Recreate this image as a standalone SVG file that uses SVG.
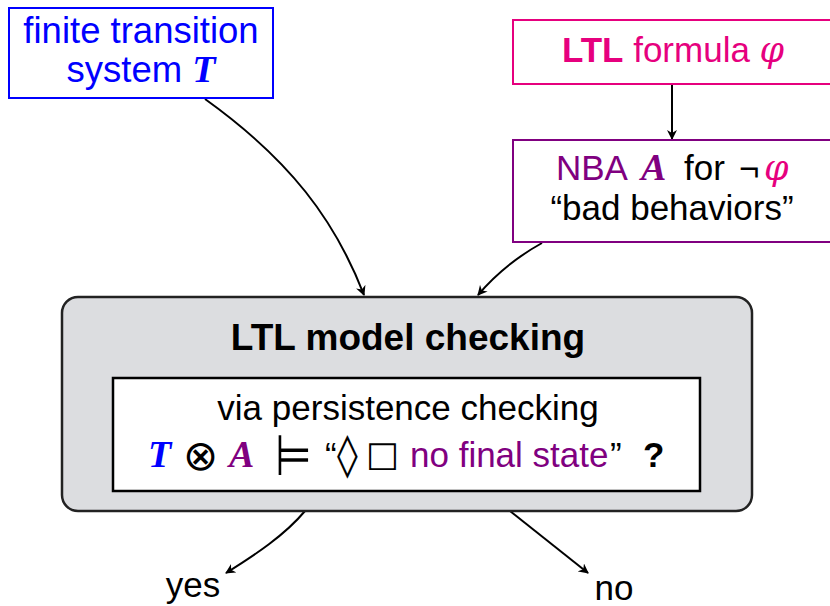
<svg xmlns="http://www.w3.org/2000/svg" width="830" height="606" viewBox="0 0 830 606">
<style>
text{font-family:"Liberation Sans","DejaVu Sans",sans-serif;font-size:35px;text-anchor:middle}
.s{text-anchor:start}
.box{fill:#fff;stroke-width:2}
.cal{font-family:"Liberation Serif","DejaVu Serif",serif;font-style:italic;font-weight:bold;font-size:38px}
.phi{font-family:"DejaVu Serif",serif;font-style:italic}
.sym{font-family:"DejaVu Sans",sans-serif}
.edge{fill:none;stroke:#000;stroke-width:2;marker-end:url(#ah)}
.b{fill:#0000ff}.m{fill:#e6007e}.p{fill:#800080}.k{fill:#000}
</style>
<defs>
<marker id="ah" viewBox="0 0 10 10" refX="9" refY="5" markerWidth="5" markerHeight="5" orient="auto" markerUnits="strokeWidth">
<path d="M0,0 L10,5 L0,10 L3,5 z" fill="#000"/>
</marker>
</defs>
<g id="edges">
<path class="edge" d="M205,99 C290,160 335,220 364,295"/>
<path class="edge" d="M672,84 L672,139"/>
<path class="edge" d="M542,243 C515,258 495,275 478,295"/>
<path class="edge" d="M305,511 C285,535 255,555 226,573"/>
<path class="edge" d="M510,511 C540,535 565,555 588,573"/>
</g>
<g id="ts">
<rect class="box" x="9" y="8" width="264" height="90" stroke="#0000ff"/>
<text x="141" y="43" class="b" style="font-size:36.5px">finite transition</text>
<text x="141" y="82" class="b" style="font-size:36.5px">system <tspan class="cal">T</tspan></text>
</g>
<g id="ltl">
<rect class="box" x="513" y="20" width="330" height="64" stroke="#e6007e"/>
<text x="673" y="62" class="m"><tspan font-weight="bold">LTL</tspan> formula <tspan class="phi">φ</tspan></text>
</g>
<g id="nba">
<rect class="box" x="513" y="140" width="330" height="102" stroke="#800080"/>
<text x="556" y="180" class="s"><tspan class="p">NBA</tspan><tspan x="641" class="cal p">A</tspan><tspan x="684">for</tspan><tspan x="739">¬</tspan><tspan x="764" class="phi m">φ</tspan></text>
<text x="672" y="220">“bad behaviors”</text>
</g>
<g id="mc">
<rect x="62" y="297" width="690" height="214" rx="16" fill="#dcdde0" stroke="#222" stroke-width="2.5"/>
<text x="408" y="350" font-weight="bold" style="font-size:37px">LTL model checking</text>
<rect x="113" y="378" width="587" height="113" fill="#fff" stroke="#000" stroke-width="2.5"/>
<text x="408" y="420">via persistence checking</text>
<text x="148" y="467" class="s cal b">T</text>
<text x="183" y="470" class="s sym" style="font-size:42px">⊗</text>
<text x="229" y="467" class="s cal p">A</text>
<text transform="translate(275,475) scale(1,1.35)" class="s sym" style="font-size:42px">⊨</text>
<text x="325" y="467" class="s">“</text>
<text x="337" y="469" class="s sym" style="font-size:42px">◊</text>
<text x="366" y="466" class="s sym">□</text>
<text x="410" y="467" class="s p">no final state</text>
<text x="610" y="467" class="s">”</text>
<text x="643" y="467" class="s" font-weight="bold">?</text>
</g>
<g id="yes"><text x="193" y="597">yes</text></g>
<g id="no"><text x="614" y="600">no</text></g>
</svg>
